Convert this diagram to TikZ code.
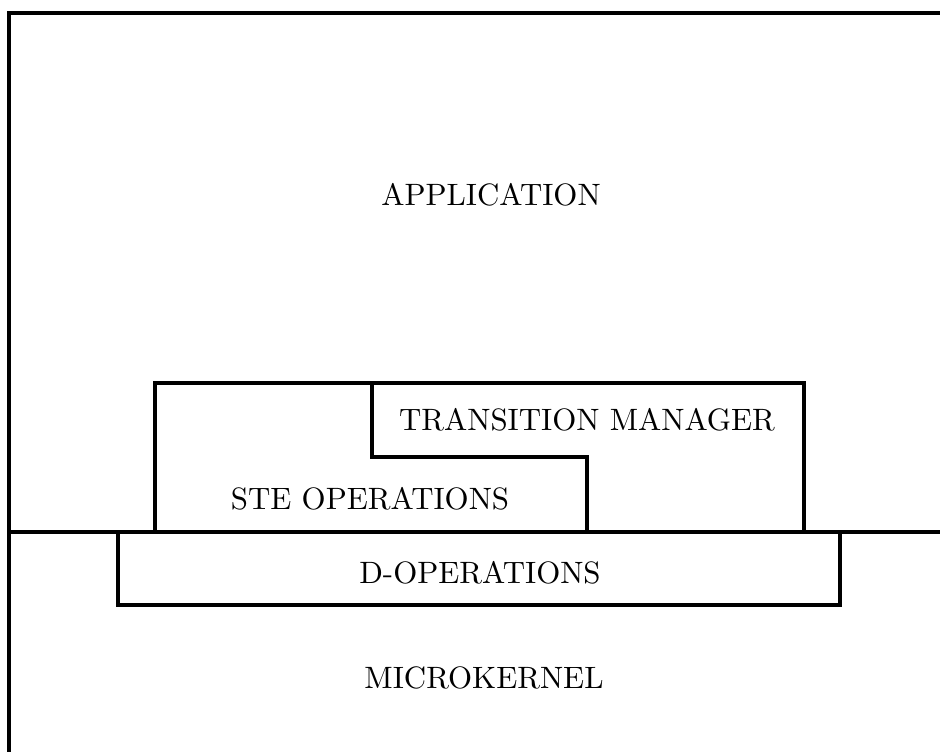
\documentclass[tikz,border=0pt]{standalone}
\usepackage{tikz}

\tikzset{
  kerros/.style={line width=1.1pt, line join=miter},
  otsikko/.style={inner sep=0pt, font=\fontsize{10.3}{12}\selectfont}
}

\begin{document}
\begin{tikzpicture}[x=0.3333pt, y=-0.3333pt]
				\useasboundingbox (0,0) rectangle (940,752);
				% outer frame and the application / microkernel split
				\draw[kerros] (9,752) -- (9,13) -- (940,13);
				\draw[kerros] (9,532) -- (940,532);
				% ste operations and transition manager
				\draw[kerros] (155,531) -- (155,383) -- (804,383) -- (804,531);
				\draw[kerros] (372,383) -- (372,457) -- (587,457) -- (587,531);
				% d-operations
				\draw[kerros] (118,532) -- (118,605) -- (840,605) -- (840,532);
				\node[otsikko] (sovellus) at (491,195) {APPLICATION};
				\node[otsikko] (siirtymat) at (587,420) {TRANSITION MANAGER};
				\node[otsikko] (ste) at (370,499) {STE OPERATIONS};
				\node[otsikko] (dops) at (480,573) {D-OPERATIONS};
				\node[otsikko] (ydin) at (484,678) {MICROKERNEL};
			\end{tikzpicture}
\end{document}
